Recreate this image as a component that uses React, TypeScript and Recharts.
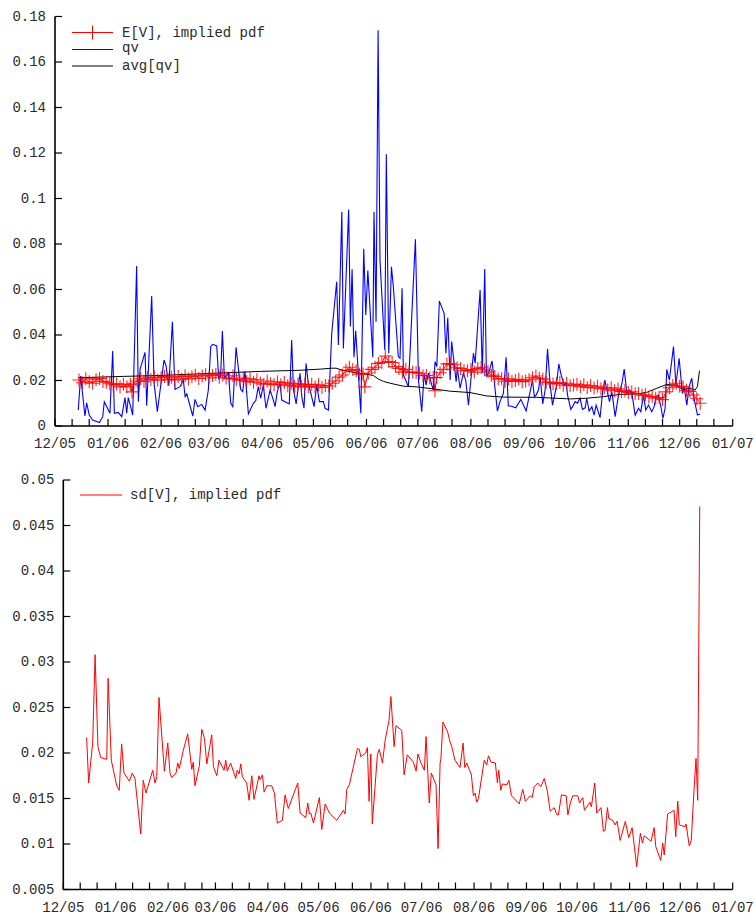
import React from 'react';
import { LineChart, Line, XAxis, YAxis, Legend } from 'recharts';

// x values are days since 2005-12-01
const monthStarts = [0, 31, 62, 90, 121, 151, 182, 212, 243, 274, 304, 335, 365, 396];
const monthLabels = ['12/05', '01/06', '02/06', '03/06', '04/06', '05/06', '06/06', '07/06', '08/06', '09/06', '10/06', '11/06', '12/06', '01/07'];

const topYTicks = [0, 0.02, 0.04, 0.06, 0.08, 0.1, 0.12, 0.14, 0.16, 0.18];
const bottomYTicks = [0.005, 0.01, 0.015, 0.02, 0.025, 0.03, 0.035, 0.04, 0.045, 0.05];

const evDays = [14, 16, 18, 20, 22, 24, 26, 28, 30, 32, 34, 36, 38, 40, 42, 44, 45, 46, 48, 50, 52, 54, 56, 58, 60, 62, 64, 66, 68, 70, 72, 74, 76, 78, 80, 82, 84, 86, 88, 90, 92, 94, 96, 98, 100, 102, 104, 106, 108, 110, 112, 114, 116, 118, 120, 122, 124, 126, 128, 130, 132, 134, 136, 138, 140, 142, 144, 146, 148, 150, 152, 154, 156, 158, 160, 162, 164, 166, 168, 170, 172, 174, 176, 178, 180, 181, 183, 185, 187, 189, 191, 193, 195, 197, 199, 201, 203, 205, 207, 209, 211, 213, 215, 217, 219, 221, 222, 223, 225, 227, 229, 231, 233, 235, 237, 239, 241, 243, 245, 247, 249, 251, 253, 255, 257, 259, 261, 263, 265, 267, 269, 271, 273, 275, 277, 279, 281, 283, 285, 287, 289, 291, 293, 295, 297, 299, 301, 303, 305, 307, 309, 311, 313, 315, 317, 319, 321, 323, 325, 327, 329, 331, 333, 335, 337, 339, 341, 343, 345, 347, 349, 351, 353, 355, 357, 359, 361, 363, 365, 367, 369, 371, 373, 375, 377];
const evValues = [0.0202, 0.0190, 0.0208, 0.0194, 0.0188, 0.0203, 0.0209, 0.0196, 0.0192, 0.0186, 0.0180, 0.0185, 0.0172, 0.0184, 0.0173, 0.0182, 0.0150, 0.0188, 0.0198, 0.0208, 0.0196, 0.0212, 0.0204, 0.0215, 0.0201, 0.0212, 0.0218, 0.0204, 0.0214, 0.0202, 0.0218, 0.0206, 0.0221, 0.0207, 0.0217, 0.0223, 0.0209, 0.0220, 0.0225, 0.0211, 0.0222, 0.0228, 0.0214, 0.0224, 0.0211, 0.0208, 0.0221, 0.0206, 0.0201, 0.0211, 0.0196, 0.0207, 0.0192, 0.0203, 0.0189, 0.0184, 0.0198, 0.0186, 0.0181, 0.0194, 0.0181, 0.0191, 0.0177, 0.0188, 0.0175, 0.0185, 0.0172, 0.0183, 0.0173, 0.0183, 0.0171, 0.0181, 0.0169, 0.0178, 0.0176, 0.0188, 0.0198, 0.0215, 0.0224, 0.0245, 0.0258, 0.0248, 0.0243, 0.0228, 0.0229, 0.0172, 0.0233, 0.0249, 0.0258, 0.0275, 0.0279, 0.0308, 0.0283, 0.0279, 0.0261, 0.0253, 0.0237, 0.0249, 0.0236, 0.0237, 0.0235, 0.0232, 0.0221, 0.0222, 0.0211, 0.0213, 0.0155, 0.0213, 0.0234, 0.0249, 0.0273, 0.0273, 0.0269, 0.0256, 0.0253, 0.0243, 0.0243, 0.0248, 0.0237, 0.0253, 0.0258, 0.0247, 0.0238, 0.0223, 0.0218, 0.0207, 0.0208, 0.0197, 0.0207, 0.0196, 0.0200, 0.0205, 0.0195, 0.0198, 0.0203, 0.0212, 0.0220, 0.0211, 0.0206, 0.0192, 0.0193, 0.0185, 0.0187, 0.0191, 0.0179, 0.0188, 0.0177, 0.0180, 0.0184, 0.0173, 0.0181, 0.0169, 0.0178, 0.0167, 0.0175, 0.0164, 0.0168, 0.0158, 0.0168, 0.0155, 0.0163, 0.0152, 0.0155, 0.0147, 0.0150, 0.0142, 0.0143, 0.0135, 0.0137, 0.0128, 0.0131, 0.0122, 0.0125, 0.0116, 0.0150, 0.0168, 0.0178, 0.0188, 0.0175, 0.0172, 0.0157, 0.0152, 0.0136, 0.0120, 0.0100];

const qvDays = [13.6, 15, 17.5, 18.5, 20, 22, 25.9, 27.9, 28.8, 32.1, 33.7, 34.7, 37, 39, 40.9, 41.9, 42.8, 44.2, 45.4, 47.7, 48.7, 49.7, 52.6, 53.6, 56.5, 57.9, 59.8, 63.7, 64.9, 66.5, 68.6, 70.1, 73.1, 75, 76, 77, 80.5, 81.8, 83.4, 85.7, 87.7, 89.6, 91, 92.2, 94.5, 95.7, 96.8, 97.8, 99, 101.3, 102.7, 103.9, 105.8, 108.5, 109.7, 111, 113, 115.9, 117.3, 118.8, 120.2, 121.7, 123.3, 125.7, 127.6, 128.6, 129.9, 131.5, 132.5, 136.9, 138.3, 139.3, 140.9, 143.2, 144.2, 145.5, 146.7, 148, 151.4, 152.9, 154.5, 156.8, 157.8, 159.8, 161.7, 164.6, 165.6, 167.6, 168.5, 171.6, 172.6, 173.6, 174.7, 175.7, 178.7, 180.4, 181.6, 182.8, 185.7, 186.4, 187.6, 188.8, 189.9, 192.7, 193.6, 195, 196.6, 197.7, 200.6, 201.6, 202.8, 203.6, 206.5, 210.6, 212.4, 214.3, 215.7, 216.8, 218.2, 220.2, 221.1, 222.1, 223.1, 224.6, 227.4, 228.4, 229.5, 230.9, 231.8, 233.2, 234.4, 235.1, 236.7, 238.6, 240, 241.6, 244.5, 245.5, 248.4, 249.7, 251.1, 252.1, 253.6, 255.4, 258.5, 260, 262, 263.6, 264.9, 266.3, 269.2, 272.2, 275.3, 277.2, 279, 280.1, 281.1, 282.5, 283.5, 285, 286.4, 287.8, 289.3, 290.7, 292.8, 294.4, 295.6, 297.5, 298.7, 299.5, 301.4, 302.4, 303.9, 305.3, 306.8, 308.2, 309.8, 310.7, 312.1, 313.7, 315, 316.2, 318.5, 320.1, 321.3, 324, 325.4, 327.3, 329.3, 331.3, 332.6, 334.2, 335.7, 337.1, 339, 341, 342.3, 343.9, 345.2, 346.8, 348.7, 350.1, 351.2, 352.6, 354.2, 355.2, 356.5, 357.5, 359, 361.4, 362.8, 364.7, 366.6, 367.6, 369.2, 370.5, 372.1, 373.4, 375.4, 376.9];
const qvValues = [0.0070, 0.0220, 0.0044, 0.0102, 0.0048, 0.0026, 0.0015, 0.0041, 0.0107, 0.0056, 0.0330, 0.0056, 0.0060, 0.0041, 0.0125, 0.0056, 0.0125, 0.0085, 0.0048, 0.0703, 0.0107, 0.0249, 0.0324, 0.0089, 0.0571, 0.0188, 0.0063, 0.0290, 0.0264, 0.0177, 0.0458, 0.0161, 0.0173, 0.0202, 0.0129, 0.0141, 0.0044, 0.0117, 0.0085, 0.0095, 0.0070, 0.0158, 0.0349, 0.0359, 0.0352, 0.0205, 0.0224, 0.0418, 0.0210, 0.0234, 0.0100, 0.0085, 0.0346, 0.0161, 0.0151, 0.0239, 0.0053, 0.0100, 0.0111, 0.0173, 0.0122, 0.0180, 0.0078, 0.0158, 0.0114, 0.0085, 0.0151, 0.0188, 0.0114, 0.0097, 0.0378, 0.0161, 0.0097, 0.0232, 0.0129, 0.0078, 0.0276, 0.0188, 0.0085, 0.0180, 0.0107, 0.0107, 0.0078, 0.0070, 0.0407, 0.0634, 0.0356, 0.0942, 0.0341, 0.0952, 0.0437, 0.0689, 0.0302, 0.0419, 0.0056, 0.0779, 0.0488, 0.0683, 0.0302, 0.0942, 0.0458, 0.1740, 0.0730, 0.0334, 0.1194, 0.0320, 0.0700, 0.0612, 0.0305, 0.0298, 0.0605, 0.0224, 0.0173, 0.0821, 0.0202, 0.0063, 0.0232, 0.0180, 0.0232, 0.0180, 0.0158, 0.0283, 0.0261, 0.0549, 0.0495, 0.0320, 0.0476, 0.0202, 0.0371, 0.0276, 0.0195, 0.0254, 0.0166, 0.0232, 0.0202, 0.0092, 0.0320, 0.0276, 0.0598, 0.0232, 0.0690, 0.0217, 0.0239, 0.0286, 0.0066, 0.0107, 0.0143, 0.0302, 0.0088, 0.0088, 0.0080, 0.0117, 0.0066, 0.0136, 0.0202, 0.0129, 0.0136, 0.0158, 0.0214, 0.0097, 0.0158, 0.0338, 0.0185, 0.0092, 0.0166, 0.0273, 0.0229, 0.0180, 0.0188, 0.0136, 0.0073, 0.0085, 0.0107, 0.0100, 0.0122, 0.0073, 0.0080, 0.0122, 0.0066, 0.0085, 0.0048, 0.0092, 0.0037, 0.0158, 0.0202, 0.0107, 0.0151, 0.0041, 0.0136, 0.0188, 0.0250, 0.0143, 0.0158, 0.0143, 0.0048, 0.0078, 0.0063, 0.0136, 0.0070, 0.0092, 0.0063, 0.0085, 0.0129, 0.0136, 0.0078, 0.0034, 0.0078, 0.0249, 0.0202, 0.0349, 0.0180, 0.0298, 0.0143, 0.0173, 0.0092, 0.0173, 0.0210, 0.0122, 0.0048, 0.0053];

const avgDays = [13.4, 40, 61.4, 80, 100.3, 120, 143.2, 155, 161.7, 164.2, 167.6, 172.4, 177.3, 181.8, 186, 189, 192, 195.8, 203.6, 211.4, 221.1, 230.9, 242.5, 252.3, 262, 281.5, 301, 310.7, 320.4, 330.2, 340, 345.8, 351.7, 357.5, 361.4, 367.2, 371.1, 374, 375.4, 376.6];
const avgValues = [0.0212, 0.0218, 0.0222, 0.0228, 0.0234, 0.0240, 0.0245, 0.0250, 0.0254, 0.0254, 0.0246, 0.0239, 0.0232, 0.0228, 0.0222, 0.0206, 0.0196, 0.0188, 0.0175, 0.0172, 0.0163, 0.0153, 0.0147, 0.0132, 0.0127, 0.0126, 0.0119, 0.0122, 0.0129, 0.0139, 0.0141, 0.0148, 0.0166, 0.0183, 0.0180, 0.0161, 0.0166, 0.0158, 0.0173, 0.0243];

const sdDays = [13.8, 15, 17.4, 18.8, 20.5, 22.1, 25.7, 26.5, 28.4, 31.6, 33.1, 34.5, 35.9, 39.1, 40.8, 42.4, 45.8, 47.3, 48.9, 52.9, 54.3, 55.3, 56.6, 59.8, 61.8, 63.1, 64.1, 66.7, 67.7, 68.6, 71, 73.6, 76, 76.9, 77.9, 80.5, 81.9, 83.5, 84.9, 87.8, 88.8, 90.8, 92.1, 95.1, 96.1, 97, 99, 102, 102.9, 104, 105, 105.9, 108.5, 109.9, 111.5, 112.8, 115.8, 116.4, 117.8, 118.8, 120.4, 123.3, 124.9, 126.6, 129.6, 131.2, 133.1, 138.7, 140.1, 143.4, 144.6, 145.6, 146.4, 148, 151.5, 152.9, 154.9, 157.4, 161.8, 165.7, 166.7, 167.7, 169.2, 174, 175.1, 176, 178.9, 179.9, 180.9, 181.9, 182.8, 185.8, 186.9, 188.8, 190.4, 192.7, 193.8, 195.7, 196.8, 200.2, 201.6, 203.5, 207.1, 208.7, 209.8, 211.4, 213.6, 214.6, 216.5, 217.7, 220.5, 221.7, 222.9, 223.4, 224.6, 227.4, 228.8, 229.8, 231.7, 234.7, 236.5, 237.5, 238.7, 241.4, 242.6, 243.6, 244.6, 245.6, 249, 250.5, 251.5, 253, 255.6, 256.8, 257.6, 258.8, 259.8, 262.4, 263.6, 265.1, 266.7, 269.7, 271.8, 273.4, 276.2, 277.4, 278.6, 280.7, 282.5, 284.5, 286.4, 288, 290.4, 292, 292.9, 294.7, 297.5, 298.5, 299.9, 301.4, 304.4, 305.4, 307.3, 308.3, 311.6, 312.4, 314.4, 315.6, 318.1, 319.5, 320.5, 321.9, 322.7, 325, 326.4, 327.6, 329.4, 332.5, 334.5, 336.5, 339.2, 341.4, 342.6, 343.7, 347.7, 349.5, 350.5, 353.4, 354.6, 355.5, 357.5, 361.3, 362.3, 363.5, 364.4, 367.8, 368.4, 370.3, 371.5, 373.1, 374.3, 375.3, 376.5];
const sdValues = [0.0217, 0.0167, 0.0212, 0.0308, 0.0207, 0.0195, 0.0193, 0.0282, 0.0192, 0.0164, 0.0159, 0.0210, 0.0178, 0.0169, 0.0178, 0.0172, 0.0111, 0.0170, 0.0156, 0.0181, 0.0167, 0.0174, 0.0261, 0.0180, 0.0211, 0.0178, 0.0173, 0.0178, 0.0189, 0.0183, 0.0203, 0.0221, 0.0182, 0.0190, 0.0164, 0.0186, 0.0226, 0.0216, 0.0188, 0.0220, 0.0185, 0.0175, 0.0192, 0.0181, 0.0192, 0.0180, 0.0189, 0.0172, 0.0181, 0.0177, 0.0188, 0.0174, 0.0167, 0.0148, 0.0175, 0.0149, 0.0175, 0.0171, 0.0176, 0.0157, 0.0164, 0.0164, 0.0156, 0.0123, 0.0126, 0.0154, 0.0139, 0.0167, 0.0134, 0.0129, 0.0145, 0.0133, 0.0134, 0.0123, 0.0151, 0.0116, 0.0144, 0.0134, 0.0126, 0.0137, 0.0133, 0.0160, 0.0165, 0.0205, 0.0204, 0.0196, 0.0200, 0.0206, 0.0147, 0.0199, 0.0122, 0.0198, 0.0204, 0.0189, 0.0214, 0.0236, 0.0262, 0.0207, 0.0230, 0.0225, 0.0176, 0.0198, 0.0190, 0.0180, 0.0199, 0.0190, 0.0181, 0.0218, 0.0145, 0.0178, 0.0165, 0.0095, 0.0189, 0.0194, 0.0234, 0.0223, 0.0212, 0.0207, 0.0192, 0.0184, 0.0211, 0.0184, 0.0189, 0.0176, 0.0153, 0.0156, 0.0146, 0.0150, 0.0192, 0.0187, 0.0197, 0.0190, 0.0189, 0.0167, 0.0181, 0.0159, 0.0166, 0.0165, 0.0170, 0.0153, 0.0150, 0.0144, 0.0160, 0.0147, 0.0153, 0.0151, 0.0163, 0.0167, 0.0163, 0.0172, 0.0158, 0.0136, 0.0140, 0.0132, 0.0132, 0.0154, 0.0153, 0.0132, 0.0145, 0.0153, 0.0153, 0.0145, 0.0151, 0.0137, 0.0146, 0.0141, 0.0167, 0.0134, 0.0140, 0.0114, 0.0115, 0.0140, 0.0128, 0.0126, 0.0121, 0.0125, 0.0104, 0.0125, 0.0107, 0.0118, 0.0075, 0.0112, 0.0101, 0.0109, 0.0103, 0.0118, 0.0097, 0.0082, 0.0101, 0.0088, 0.0133, 0.0137, 0.0108, 0.0147, 0.0121, 0.0119, 0.0122, 0.0098, 0.0104, 0.0159, 0.0194, 0.0148, 0.0471];

const zip = (xs: number[], ys: number[]) => xs.map((d, i) => ({ d, v: ys[i] }));
const evData = zip(evDays, evValues);
const qvData = zip(qvDays, qvValues);
const avgData = zip(avgDays, avgValues);
const sdData = zip(sdDays, sdValues);

const xTicks: number[] = [];
monthStarts.forEach((m, i) => {
  xTicks.push(m);
  if (i < monthStarts.length - 1) {
    xTicks.push(m + 10);
    xTicks.push(m + 20);
  }
});

const FONT = "'Liberation Mono', 'DejaVu Sans Mono', monospace";
const TEXT = '#2a2a2a';

const XTick = (props: any) => {
  const { x, y, payload } = props;
  const i = monthStarts.indexOf(payload.value);
  return (
    <g>
      <line x1={x} x2={x} y1={y} y2={y - 7} stroke="#000" strokeWidth={1.2} />
      {i >= 0 && (
        <text x={x} y={y + 18} textAnchor="middle" dominantBaseline="central" fontFamily={FONT} fontSize={14} fill={TEXT}>
          {monthLabels[i]}
        </text>
      )}
    </g>
  );
};

const YTick = (props: any) => {
  const { x, y, payload } = props;
  return (
    <g>
      <line x1={x} x2={x + 7} y1={y} y2={y} stroke="#000" strokeWidth={1.2} />
      <text x={x - 9} y={y} textAnchor="end" dominantBaseline="central" fontFamily={FONT} fontSize={14} fill={TEXT}>
        {String(payload.value)}
      </text>
    </g>
  );
};

const plusPath = (cx: number, cy: number, r: number) => `M${cx - r},${cy}h${2 * r}M${cx},${cy - r}v${2 * r}`;

const PlusDot = (props: any) => {
  const { cx, cy, index } = props;
  if (cx == null || cy == null) return <g key={`e${index}`} />;
  return <path key={`p${index}`} d={plusPath(cx, cy, 6.5)} stroke="#ff0000" strokeOpacity={0.85} strokeWidth={1.1} fill="none" />;
};

const TopLegend = () => (
  <svg width={300} height={80} style={{ display: 'block', overflow: 'visible' }}>
    <line x1={72} x2={113} y1={32.5} y2={32.5} stroke="#ff0000" strokeWidth={1} />
    <path d={plusPath(92.5, 32.5, 7)} stroke="#ff0000" strokeWidth={1} />
    <text x={122} y={33} dominantBaseline="central" fontFamily={FONT} fontSize={14} fill={TEXT}>E[V], implied pdf</text>
    <line x1={72} x2={113} y1={49.5} y2={49.5} stroke="#0000ff" strokeWidth={1} />
    <text x={122} y={48} dominantBaseline="central" fontFamily={FONT} fontSize={14} fill={TEXT}>qv</text>
    <line x1={72} x2={113} y1={66} y2={66} stroke="#000" strokeWidth={1} />
    <text x={122} y={66} dominantBaseline="central" fontFamily={FONT} fontSize={14} fill={TEXT}>avg[qv]</text>
  </svg>
);

const BottomLegend = () => (
  <svg width={300} height={60} style={{ display: 'block', overflow: 'visible' }}>
    <line x1={80} x2={122} y1={35} y2={35} stroke="#ff0000" strokeWidth={1} />
    <text x={130} y={35} dominantBaseline="central" fontFamily={FONT} fontSize={14} fill={TEXT}>sd[V], implied pdf</text>
  </svg>
);

export default function App() {
  return (
    <div style={{ position: 'absolute', left: 0, top: 0, width: 756, height: 916, background: '#fff' }}>
      <div style={{ position: 'absolute', left: 0, top: 0 }}>
        <LineChart width={756} height={460} margin={{ top: 16.5, right: 23.3, bottom: 4, left: 0 }}>
          <XAxis
            dataKey="d"
            type="number"
            domain={[0, 396]}
            ticks={xTicks}
            interval={0}
            tick={<XTick />}
            tickLine={false}
            tickSize={0}
            tickMargin={0}
            height={30}
            axisLine={{ stroke: '#000', strokeWidth: 1.6 }}
            allowDuplicatedCategory={false}
          />
          <YAxis
            type="number"
            domain={[0, 0.18]}
            ticks={topYTicks}
            interval={0}
            tick={<YTick />}
            tickLine={false}
            tickSize={0}
            tickMargin={0}
            width={55}
            axisLine={{ stroke: '#000', strokeWidth: 1.6 }}
          />
          <Legend
            layout="vertical"
            align="center"
            verticalAlign="middle"
            wrapperStyle={{ left: 0, top: 0, width: 300, height: 80 }}
            content={() => <TopLegend />}
          />
          <Line data={evData} dataKey="v" stroke="#ff0000" strokeWidth={1} dot={PlusDot} activeDot={false} isAnimationActive={false} />
          <Line data={qvData} dataKey="v" stroke="#0000ff" strokeWidth={1.1} dot={false} activeDot={false} isAnimationActive={false} />
          <Line data={avgData} dataKey="v" stroke="#000000" strokeWidth={1} dot={false} activeDot={false} isAnimationActive={false} />
        </LineChart>
      </div>
      <div style={{ position: 'absolute', left: 0, top: 460 }}>
        <LineChart width={756} height={456} margin={{ top: 20, right: 23.3, bottom: 0, left: 0 }}>
          <XAxis
            dataKey="d"
            type="number"
            domain={[0, 396]}
            ticks={xTicks}
            interval={0}
            tick={<XTick />}
            tickLine={false}
            tickSize={0}
            tickMargin={0}
            height={26.5}
            axisLine={{ stroke: '#000', strokeWidth: 1.6 }}
          />
          <YAxis
            type="number"
            domain={[0.005, 0.05]}
            ticks={bottomYTicks}
            interval={0}
            tick={<YTick />}
            tickLine={false}
            tickSize={0}
            tickMargin={0}
            width={63.3}
            axisLine={{ stroke: '#000', strokeWidth: 1.6 }}
          />
          <Legend
            layout="vertical"
            align="center"
            verticalAlign="middle"
            wrapperStyle={{ left: 0, top: 0, width: 300, height: 60 }}
            content={() => <BottomLegend />}
          />
          <Line data={sdData} dataKey="v" stroke="#ff0000" strokeWidth={1} dot={false} activeDot={false} isAnimationActive={false} />
        </LineChart>
      </div>
    </div>
  );
}
